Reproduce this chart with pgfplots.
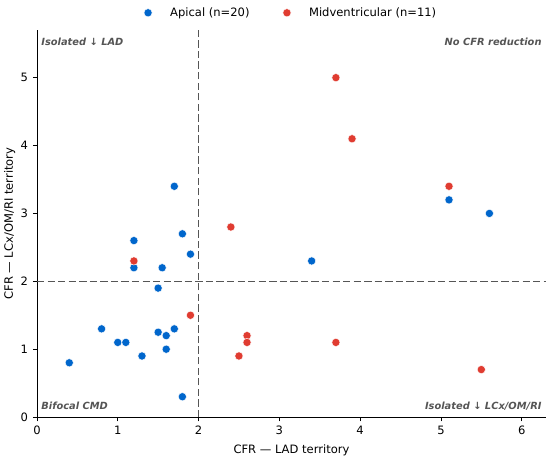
\documentclass[border=0pt]{standalone}
\usepackage{fontspec}
\setmainfont{DejaVu Sans}
\usepackage{pgfplots}
\pgfplotsset{compat=1.18}
\definecolor{apical}{HTML}{0066CC}
\definecolor{midv}{HTML}{E03C31}
\definecolor{annot}{HTML}{555555}
\newcommand\mainfont{\fontsize{8.3}{10}\selectfont}
\newcommand\annfont{\fontsize{7.1}{8.5}\selectfont\bfseries\itshape}
\begin{document}
\begin{tikzpicture}
\useasboundingbox (-26.6pt,-30.2pt) rectangle (369.4pt,300.3pt);
\begin{axis}[at={(0,0)}, anchor=south west, scale only axis,
 width=366.5pt, height=278.6pt,
 xmin=0, xmax=6.3, ymin=0, ymax=5.7,
 axis x line*=bottom, axis y line*=left,
 axis line style={-, line width=0.6pt},
 xtick={0,1,2,3,4,5,6}, ytick={0,1,2,3,4,5},
 tick align=outside, major tick length=3pt,
 tick style={black, line width=0.6pt},
 /pgf/number format/assume math mode=true,
 tick label style={font=\mainfont},
 label style={font=\mainfont},
 xlabel={CFR — LAD territory},
 ylabel={CFR — LCx/OM/RI territory},
 ylabel shift=-3pt,
 legend style={at={(0.5,1)}, anchor=center, yshift=12.5pt,
   draw=none, fill=none, font=\mainfont,
   /tikz/every odd column/.append style={column sep=11pt},
   /tikz/every even column/.append style={column sep=22pt}},
 legend image code/.code={\draw[#1] plot coordinates {(0.25cm,0cm)};},
 legend columns=2, legend cell align=left,
]
\draw[annot, line width=1pt, dash pattern=on 5.3pt off 2.3pt] (axis cs:2,0) -- (axis cs:2,5.7);
\draw[annot, line width=1pt, dash pattern=on 5.3pt off 2.3pt] (axis cs:0,2) -- (axis cs:6.3,2);
\addplot[only marks, mark=*, mark size=2.95pt, mark options={fill=apical, draw=white, line width=0.3pt}]
 coordinates {(0.4,0.8) (0.8,1.3) (1.0,1.1) (1.1,1.1) (1.2,2.6) (1.2,2.2) (1.3,0.9)
 (1.5,1.9) (1.5,1.25) (1.55,2.2) (1.6,1.2) (1.6,1.0) (1.7,3.4) (1.7,1.3) (1.8,2.7)
 (1.8,0.3) (1.9,2.4) (3.4,2.3) (5.1,3.2) (5.6,3.0)};
\addlegendentry{Apical (n=20)}
\addplot[only marks, mark=*, mark size=2.95pt, mark options={fill=midv, draw=white, line width=0.3pt}]
 coordinates {(1.2,2.3) (1.9,1.5) (3.7,5.0) (3.9,4.1) (5.1,3.4) (2.4,2.8) (2.6,1.2)
 (2.6,1.1) (2.5,0.9) (3.7,1.1) (5.5,0.7)};
\addlegendentry{Midventricular (n=11)}
\node[anchor=north west, inner sep=0pt, annot, font=\annfont] at ([xshift=3pt,yshift=-5.4pt]rel axis cs:0,1) {Isolated ↓ LAD};
\node[anchor=north east, inner sep=0pt, annot, font=\annfont] at ([xshift=-3pt,yshift=-5.4pt]rel axis cs:1,1) {No CFR reduction};
\node[anchor=base west, inner sep=0pt, annot, font=\annfont] at ([xshift=3pt,yshift=5.8pt]rel axis cs:0,0) {Bifocal CMD};
\node[anchor=base east, inner sep=0pt, annot, font=\annfont] at ([xshift=-3pt,yshift=5.8pt]rel axis cs:1,0) {Isolated ↓ LCx/OM/RI};
\end{axis}
\end{tikzpicture}
\end{document}
